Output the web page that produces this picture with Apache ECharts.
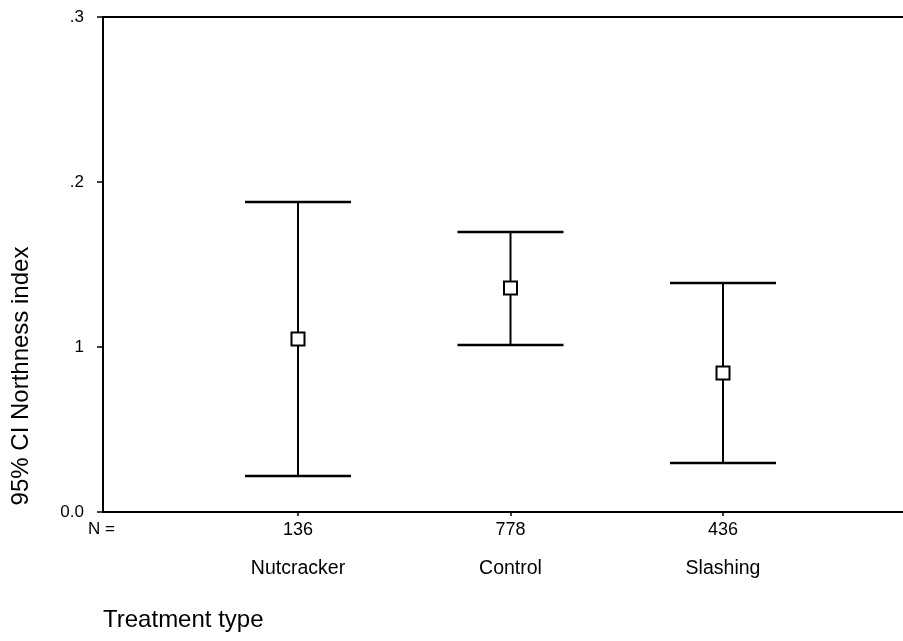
<!DOCTYPE html>
<html>
<head>
<meta charset="utf-8">
<script src="https://cdn.jsdelivr.net/npm/echarts@6/dist/echarts.min.js"></script>
<style>
  html, body { margin: 0; padding: 0; background: #fff; }
  #chart { width: 903px; height: 641px; }
</style>
</head>
<body>
<div id="chart"></div>
<script>
// treatment groups, sample sizes and 95% CI of the northness index
var categories = ['Nutcracker', 'Control', 'Slashing'];
var counts = [136, 778, 436];
var means = [0.1048, 0.1358, 0.0842];
var lower = [0.0218, 0.1012, 0.0297];
var upper = [0.1879, 0.1697, 0.1388];
var yTickLabels = { '0': '0.0', '0.1': '1', '0.2': '.2', '0.3': '.3' };

var font = 'Liberation Sans, Arial, sans-serif';
var el = document.getElementById('chart');
var myChart = echarts.init(el);

var data = [];
for (var i = 0; i < categories.length; i++) {
    data.push([i + 1, means[i], lower[i], upper[i]]);
}

function renderBar(params, api) {
    var x = api.value(0);
    var pMean = api.coord([x, api.value(1)]);
    var pLow = api.coord([x, api.value(2)]);
    var pHigh = api.coord([x, api.value(3)]);
    var capHalf = 53;
    var box = 13;
    return {
        type: 'group',
        children: [
            { type: 'line', shape: { x1: pLow[0], y1: pLow[1], x2: pHigh[0], y2: pHigh[1] }, style: { stroke: '#000', lineWidth: 2 } },
            { type: 'line', shape: { x1: pHigh[0] - capHalf, y1: pHigh[1], x2: pHigh[0] + capHalf, y2: pHigh[1] }, style: { stroke: '#000', lineWidth: 2.5 } },
            { type: 'line', shape: { x1: pLow[0] - capHalf, y1: pLow[1], x2: pLow[0] + capHalf, y2: pLow[1] }, style: { stroke: '#000', lineWidth: 2.5 } },
            { type: 'rect', shape: { x: pMean[0] - box / 2, y: pMean[1] - box / 2, width: box, height: box }, style: { fill: '#fff', stroke: '#000', lineWidth: 2 } }
        ]
    };
}

var option = {
    animation: false,
    backgroundColor: '#fff',
    grid: { left: 103, top: 17, right: 0, bottom: 129 },
    xAxis: [{
        type: 'value',
        min: 0.0824,
        max: 3.847,
        splitLine: { show: false },
        axisLine: { lineStyle: { color: '#000', width: 2 } },
        axisTick: { show: true, customValues: [1, 2, 3], length: 4, lineStyle: { color: '#000', width: 1.5 } },
        axisLabel: {
            customValues: [1, 2, 3],
            margin: 8,
            formatter: function (v) {
                var i = Math.round(v) - 1;
                return '{n|' + counts[i] + '}\n{c|' + categories[i] + '}';
            },
            rich: {
                n: { fontFamily: font, fontSize: 18, color: '#000', lineHeight: 20 },
                c: { fontFamily: font, fontSize: 19.5, color: '#000', lineHeight: 58 }
            }
        }
    }, {
        type: 'value',
        position: 'top',
        min: 0.0824,
        max: 3.847,
        splitLine: { show: false },
        axisLine: { show: true, lineStyle: { color: '#000', width: 2 } },
        axisTick: { show: false },
        axisLabel: { show: false }
    }],
    yAxis: {
        type: 'value',
        min: 0,
        max: 0.3,
        interval: 0.1,
        splitLine: { show: false },
        axisLine: { show: true, lineStyle: { color: '#000', width: 2 } },
        axisTick: { show: true, length: 6, lineStyle: { color: '#000', width: 1.5 } },
        axisLabel: {
            margin: 19,
            fontFamily: font,
            fontSize: 17,
            color: '#000',
            formatter: function (v) {
                return yTickLabels[String(Math.round(v * 10) / 10)];
            }
        }
    },
    graphic: [
        { type: 'text', left: 88, top: 521, style: { text: 'N =', fontFamily: font, fontSize: 17, fill: '#000' } },
        { type: 'text', left: 103, top: 608, style: { text: 'Treatment type', fontFamily: font, fontSize: 24, fill: '#000' } },
        {
            type: 'text', x: 21, y: 376, rotation: Math.PI / 2,
            style: { text: '95% CI Northness index', fontFamily: font, fontSize: 24, fill: '#000', align: 'center', verticalAlign: 'middle' }
        }
    ],
    series: [{
        type: 'custom',
        xAxisIndex: 0,
        renderItem: renderBar,
        encode: { x: 0, y: [1, 2, 3] },
        data: data
    }]
};

myChart.setOption(option);
</script>
</body>
</html>
